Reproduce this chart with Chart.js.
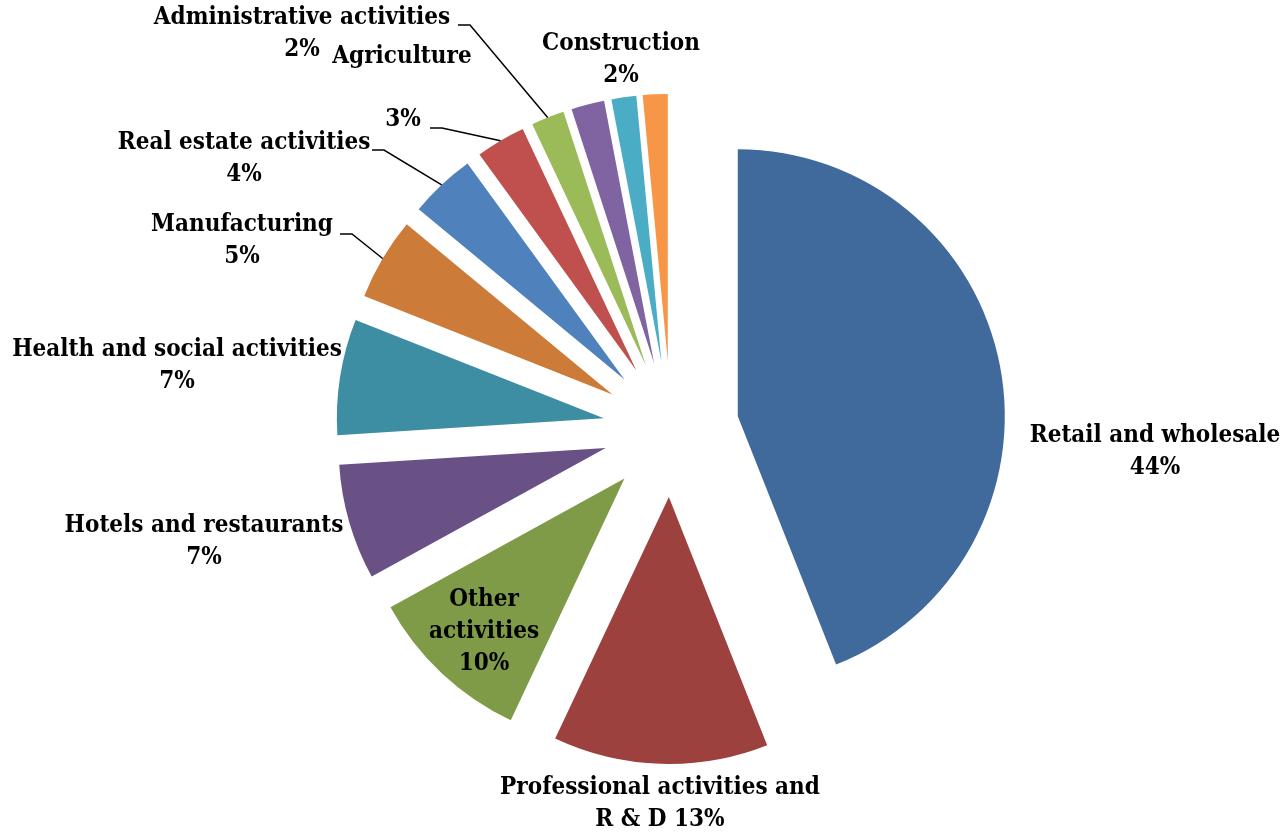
<!DOCTYPE html>
<html>
<head>
<meta charset="utf-8">
<script src="https://cdn.jsdelivr.net/npm/chart.js@4"></script>
<style>
  html, body { margin: 0; padding: 0; background: #fff; }
  #wrap { width: 1287px; height: 832px; }
</style>
</head>
<body>
<div id="wrap"><canvas id="pieChart" width="1287" height="832"></canvas></div>
<script>
// sectors, clockwise from 12 o'clock
const sectors = ['Retail and wholesale', 'Professional activities and R & D', 'Other activities',
  'Hotels and restaurants', 'Health and social activities', 'Manufacturing', 'Real estate activities',
  'Transport', 'Administrative activities', 'Agriculture', 'Information', 'Construction'];
const shares = [44, 13, 10, 7, 7, 5, 4, 3, 2, 2, 1.5, 1.5];
const sliceColors = ['#416A9C', '#9D413E', '#7F9B48', '#695185', '#3D8DA3', '#CC7B38',
  '#4F81BD', '#C0504D', '#9BBB59', '#8064A2', '#4BACC6', '#F79646'];

// how each label is written: lines of text (null = no label)
const labelLines = [
  ['Retail and wholesale', '%'],
  ['Professional activities and', 'R & D %'],
  ['Other', 'activities', '%'],
  ['Hotels and restaurants', '%'],
  ['Health and social activities', '%'],
  ['Manufacturing', '%'],
  ['Real estate activities', '%'],
  ['%'],
  ['Administrative activities', '%'],
  ['Agriculture'],
  null,
  ['Construction', '%']
];
// label placement: centre x, first line y, optional leader start
const labelPlace = [
  { x: 1155, y: 436 },
  { x: 660, y: 788 },
  { x: 484, y: 600 },
  { x: 204, y: 526 },
  { x: 177, y: 350 },
  { x: 242, y: 225, lead: [340, 234] },
  { x: 244, y: 143, lead: [372, 150] },
  { x: 403, y: 120, lead: [430, 128] },
  { x: 302, y: 18, lead: [458, 25] },
  { x: 402, y: 57 },
  null,
  { x: 621, y: 44 }
];

const explodeDist = 68;
const lineGap = 32;
const labelFont = 'bold 24px "DejaVu Serif Condensed", "DejaVu Serif", serif';

const explodePlugin = {
  id: 'explode',
  beforeDatasetsDraw(chart) {
    const area = chart.chartArea;
    const cx = (area.left + area.right) / 2;
    const cy = (area.top + area.bottom) / 2;
    chart.getDatasetMeta(0).data.forEach(arc => {
      const mid = (arc.startAngle + arc.endAngle) / 2;
      arc.x = cx + Math.cos(mid) * explodeDist;
      arc.y = cy + Math.sin(mid) * explodeDist;
    });
  }
};

const labelPlugin = {
  id: 'sliceLabels',
  afterDatasetsDraw(chart) {
    const ctx = chart.ctx;
    const meta = chart.getDatasetMeta(0);
    ctx.save();
    ctx.font = labelFont;
    ctx.fillStyle = '#000';
    ctx.textAlign = 'center';
    ctx.textBaseline = 'middle';
    meta.data.forEach((arc, i) => {
      const lines = labelLines[i];
      const place = labelPlace[i];
      if (!lines || !place) return;
      const pct = Math.round(shares[i]) + '%';
      lines.forEach((ln, k) => {
        ctx.fillText(ln.replace('%', pct), place.x, place.y + k * lineGap);
      });
      if (place.lead) {
        const mid = (arc.startAngle + arc.endAngle) / 2;
        const ex = arc.x + Math.cos(mid) * arc.outerRadius;
        const ey = arc.y + Math.sin(mid) * arc.outerRadius;
        ctx.beginPath();
        ctx.strokeStyle = '#000';
        ctx.lineWidth = 1.5;
        ctx.moveTo(place.lead[0], place.lead[1]);
        ctx.lineTo(place.lead[0] + 12, place.lead[1]);
        ctx.lineTo(ex, ey);
        ctx.stroke();
      }
    });
    ctx.restore();
  }
};

new Chart(document.getElementById('pieChart'), {
  type: 'pie',
  data: {
    labels: sectors,
    datasets: [{
      data: shares,
      backgroundColor: sliceColors,
      borderWidth: 0
    }]
  },
  options: {
    responsive: false,
    animation: false,
    radius: 267,
    layout: { padding: { left: 100, right: 45, top: 36, bottom: 10 } },
    plugins: {
      legend: { display: false },
      tooltip: { enabled: false }
    }
  },
  plugins: [explodePlugin, labelPlugin]
});
</script>
</body>
</html>
